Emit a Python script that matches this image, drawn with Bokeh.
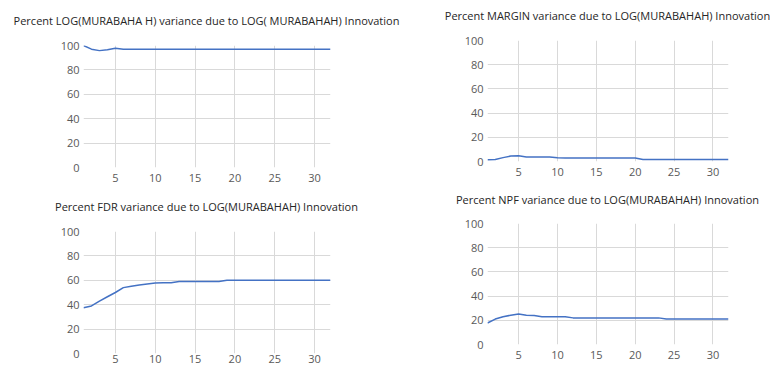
from bokeh.plotting import figure
from bokeh.layouts import column, row
from bokeh.models import FixedTicker, Range1d, Div
from bokeh.embed import file_html
from bokeh.resources import INLINE

periods = list(range(1, 33))

murabahah = [100, 97.0, 95.8, 96.6, 97.8, 97.0] + [96.9] * 26
margin = [1.5, 1.6, 3.2, 4.5, 4.8, 3.8, 3.7, 3.7, 3.7, 3.0] + [2.8] * 10 + [1.6] * 12
fdr = [37.5, 39.0, 43.0, 46.5, 50.0, 54.0, 55.2, 56.2, 57.0, 57.8, 58.0, 58.0] + [59.0] * 6 + [60.0] * 14
npf = [17.8, 21.0, 23.0, 24.2, 25.2, 24.2, 24.0, 23.0, 23.0, 23.0, 23.0] + [22.0] * 12 + [21.0] * 9

titles = [
    "Percent LOG(MURABAHA H) variance due to LOG( MURABAHAH) Innovation",
    "Percent MARGIN variance due to LOG(MURABAHAH) Innovation",
    "Percent FDR variance due to LOG(MURABAHAH) Innovation",
    "Percent NPF variance due to LOG(MURABAHAH) Innovation",
]
x_ticks = [5, 10, 15, 20, 25, 30]
y_ticks = [0, 20, 40, 60, 80, 100]
y_grid = [20, 40, 60, 80]

FONT = "Open Sans"
DIV_H = 30


def title_div(text, width, center_x, center_y):
    inner = (
        f'<div style="width:{2 * center_x}px; text-align:center; white-space:nowrap; '
        f"font-family:'{FONT}'; font-size:11px; line-height:16px; color:#262626; "
        f'margin:0; padding:0; position:relative; top:{center_y - 8}px;">{text}</div>'
    )
    return Div(text=inner, width=width, height=DIV_H, margin=0,
               styles={"overflow": "visible", "margin": "0", "padding": "0"})


def panel(values, width, height, bl, br, bt, bb, x_standoff=6):
    p = figure(width=width, height=height, output_backend="svg", toolbar_location=None,
               x_range=Range1d(1, 32), y_range=Range1d(0, 100), title_location=None,
               min_border_left=bl, min_border_right=br, min_border_top=bt, min_border_bottom=bb)
    p.outline_line_color = None
    p.background_fill_color = "white"
    p.border_fill_color = "white"
    for ax in (p.xaxis[0], p.yaxis[0]):
        ax.axis_line_color = None
        ax.major_tick_line_color = None
        ax.minor_tick_line_color = None
        ax.major_tick_out = 0
        ax.major_tick_in = 0
        ax.major_label_text_font = FONT
        ax.major_label_text_font_size = "11px"
        ax.major_label_text_color = "#595959"
    p.xaxis.ticker = FixedTicker(ticks=x_ticks)
    p.yaxis.ticker = FixedTicker(ticks=y_ticks)
    p.xaxis.major_label_standoff = x_standoff
    p.yaxis.major_label_standoff = 4
    p.xgrid.ticker = FixedTicker(ticks=x_ticks)
    p.ygrid.ticker = FixedTicker(ticks=y_grid)
    p.xgrid.grid_line_color = "#D9D9D9"
    p.ygrid.grid_line_color = "#D9D9D9"
    p.line(periods, values, line_color="#4472C4", line_width=1.5)
    return p


t1 = title_div(titles[0], 405, 206.5, 20.7)
f1 = panel(murabahah, 405, 162, 83, 75, 15, 25)
t3 = title_div(titles[2], 405, 206.5, 14.7)
f3 = panel(fdr, 405, 147, 83, 75, 9, 16, x_standoff=1)
t2 = title_div(titles[1], 366, 202.5, 16)
f2 = panel(margin, 366, 157, 82, 43, 10, 26)
t4 = title_div(titles[3], 366, 202.5, 13)
f4 = panel(npf, 366, 152, 82, 43, 6, 25)

layout = row(column(t1, f1, t3, f3, spacing=0), column(t2, f2, t4, f4, spacing=0), spacing=0)

open("out.html", "w").write(file_html(layout, INLINE))
